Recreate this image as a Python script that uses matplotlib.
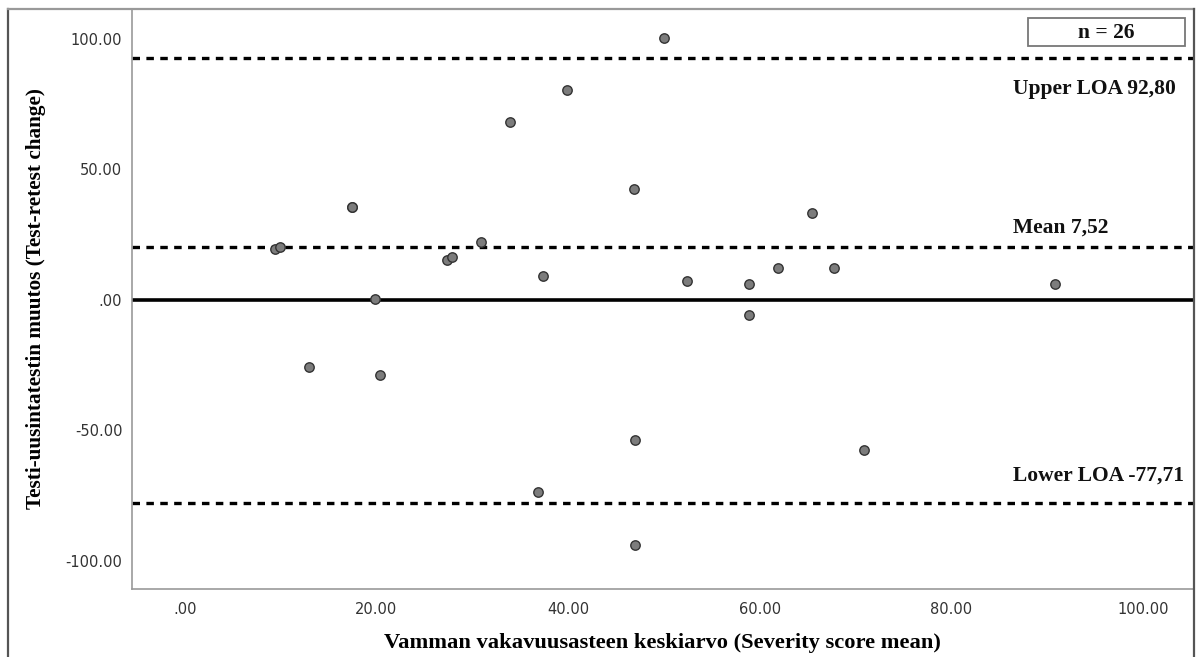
import numpy as np
import matplotlib
matplotlib.use('Agg')
import matplotlib.pyplot as plt
from matplotlib.lines import Line2D
from matplotlib.patches import Rectangle

# Bland-Altman data
sev_mean = [9.4, 9.9, 13.0, 17.5, 17.5, 19.9, 20.4, 27.4, 27.9, 30.9, 33.9, 36.9, 37.4,
            39.9, 46.9, 47.0, 47.0, 50.0, 52.4, 58.9, 58.9, 61.9, 65.4, 67.7, 70.9, 90.8]
change = [19.4, 20.4, -25.8, 35.5, 35.5, 0.3, -28.7, 15.3, 16.4, 22.3, 68.3, -73.8, 9.2,
          80.3, 42.4, -53.6, -93.9, 100.3, 7.3, 6.2, -5.7, 12.4, 33.4, 12.4, -57.7, 6.2]

upper_loa = 92.80
lower_loa = -77.71
mean_line_drawn = 20.3  # dashed "Mean" line as drawn in the picture
ref_lines = [upper_loa, mean_line_drawn, lower_loa]
ref_labels = ['Upper LOA 92,80', 'Mean 7,52', 'Lower LOA -77,71']
label_offsets = [-12, 7.3, 10.2]   # data units, above/below the lines

xticks = [0, 20, 40, 60, 80, 100]
yticks = [-100, -50, 0, 50, 100]

W, H = 1196, 657
fig = plt.figure(figsize=(W / 100, H / 100), dpi=100)
ax = fig.add_axes([132 / W, 1 - 589 / H, (1193 - 132) / W, (589 - 9) / H])

ax.set_xlim(-5.5, 105.2)
ax.set_ylim(-110.8, 111.5)

plt.rcParams['lines.scale_dashes'] = False
ax.axhline(0, color='black', lw=2.6, zorder=2)
for v in ref_lines:
    ax.axhline(v, color='black', lw=2.4, linestyle=(0, (5.4, 4.6)), zorder=2)

ax.scatter(sev_mean, change, s=46, facecolor='#7c7c7c', edgecolor='#333333',
           linewidth=1.0, zorder=3)

serif = 'Liberation Serif'
for v, lab, off in zip(ref_lines, ref_labels, label_offsets):
    ax.text(86.4, v + off, lab, fontfamily=serif, fontweight='bold', fontsize=15.5,
            va='center', ha='left', color='#111111')

# n box
ax.add_patch(Rectangle((0.8445, 0.936), 0.148, 0.0485, transform=ax.transAxes,
                       fc='white', ec='#777777', lw=1.3, zorder=4))
ax.text(0.918, 0.959, 'n = 26', transform=ax.transAxes, fontfamily=serif,
        fontweight='bold', fontsize=15.5, ha='center', va='center', color='#111111',
        zorder=5)

ax.set_xticks(xticks)
ax.set_xticklabels(['.00' if t == 0 else f'{t:.2f}' for t in xticks])
ax.set_yticks(yticks)
ax.set_yticklabels(['.00' if t == 0 else f'{t:.2f}' for t in yticks])
ax.tick_params(length=0, labelsize=10.5, colors='#333333')
ax.tick_params(axis='y', pad=7)
ax.tick_params(axis='x', pad=9)

for s in ['top', 'right']:
    ax.spines[s].set_visible(False)
for s in ['left', 'bottom']:
    ax.spines[s].set_color('#999999')
    ax.spines[s].set_linewidth(1.2)

ax.set_xlabel('Vamman vakavuusasteen keskiarvo (Severity score mean)', fontfamily=serif,
              fontweight='bold', fontsize=16.2, labelpad=12)
ax.set_ylabel('Testi-uusintatestin muutos (Test-retest change)', fontfamily=serif,
              fontweight='bold', fontsize=15.3, labelpad=14)

# outer frame (open at the bottom)
fig.add_artist(Line2D([8 / W, 8 / W], [0, 1 - 9 / H], color='#555555', lw=1.6,
                      transform=fig.transFigure))
fig.add_artist(Line2D([8 / W, 1194 / W], [1 - 9 / H, 1 - 9 / H], color='#999999', lw=1.6,
                      transform=fig.transFigure))
fig.add_artist(Line2D([1194 / W, 1194 / W], [0, 1 - 9 / H], color='#555555', lw=1.6,
                      transform=fig.transFigure))

fig.savefig('out.png', dpi=100)
